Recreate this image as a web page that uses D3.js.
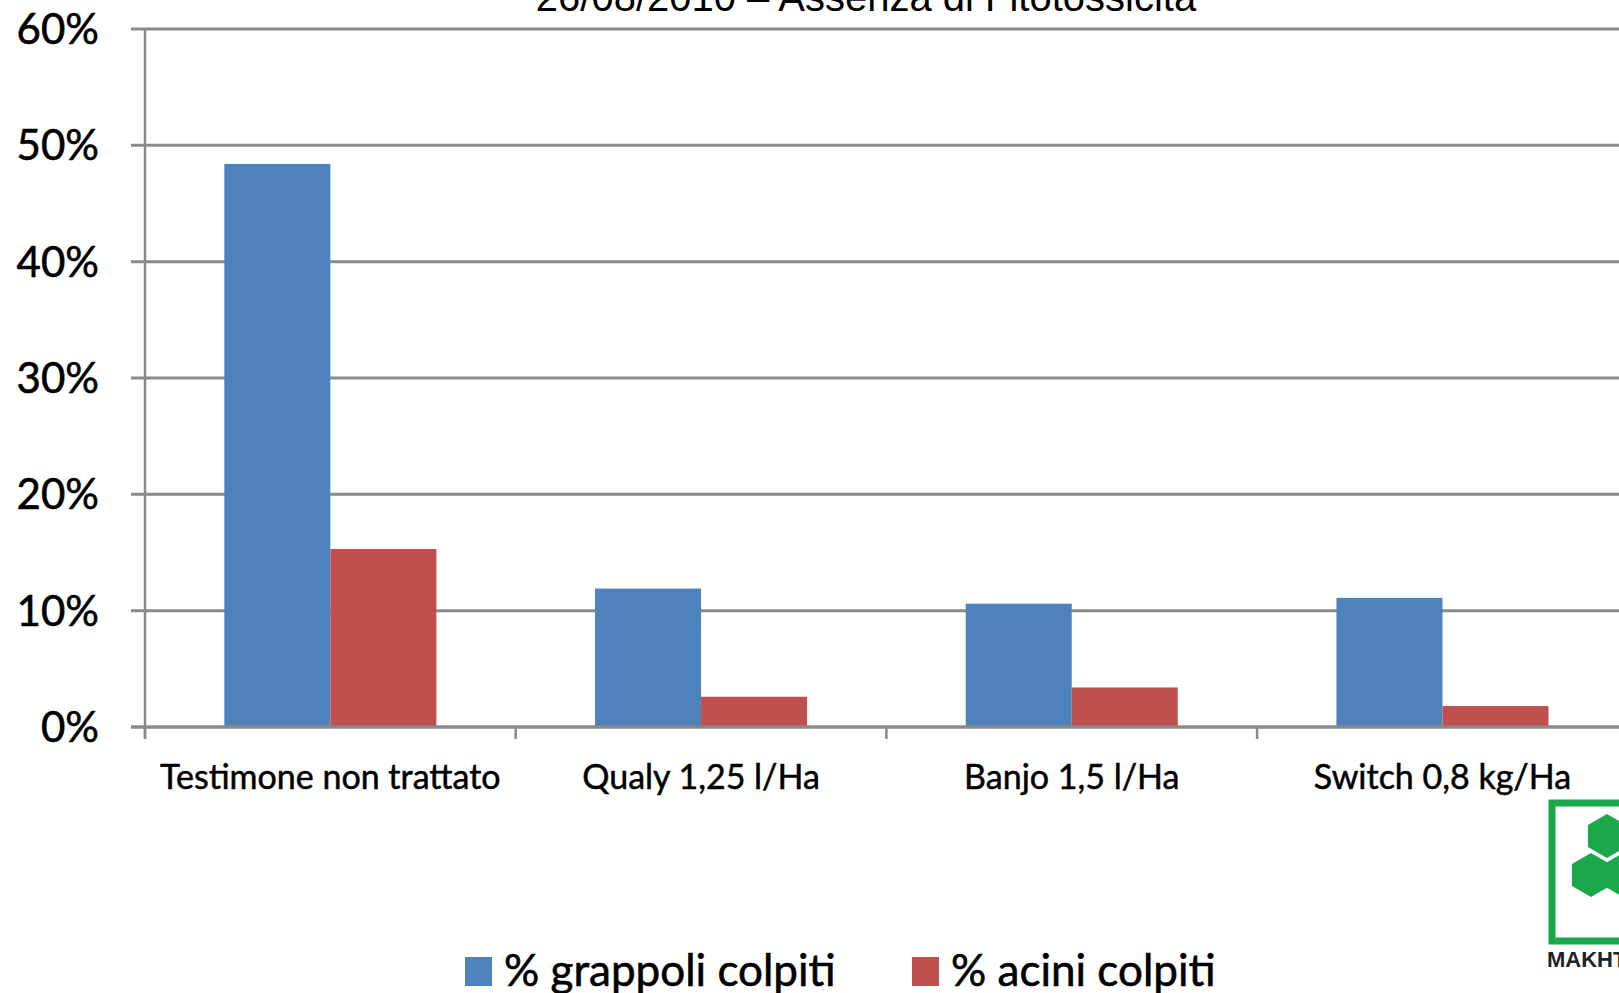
<!DOCTYPE html>
<html>
<head>
<meta charset="utf-8">
<script src="https://cdn.jsdelivr.net/npm/d3@7/dist/d3.min.js"></script>
<style>
  body { margin: 0; background: #fff; overflow: hidden; }
</style>
</head>
<body>
<div id="chart"></div>
<script>
// chart data
var categories = ["Testimone non trattato", "Qualy 1,25 l/Ha", "Banjo 1,5 l/Ha", "Switch 0,8 kg/Ha"];
var seriesNames = ["% grappoli colpiti", "% acini colpiti"];
var grappoli = [0.484, 0.119, 0.106, 0.111];
var acini = [0.153, 0.026, 0.034, 0.018];
var yTicks = [0, 0.1, 0.2, 0.3, 0.4, 0.5, 0.6];
var colors = ["#4F81BD", "#C0504D"];
var title = "26/08/2010 \u2013 Assenza di Fitotossicit\u00e0";

drawChart();

function drawChart() {
    var W = 1619, H = 993;
    var margin = { top: 29, right: 0, bottom: 266, left: 145 },
        width = 4 * 370.7,
        height = H - margin.top - margin.bottom;

    var svg = d3.select("#chart")
        .append("svg")
        .attr("width", W)
        .attr("height", H);

    var g = svg.append("g")
        .attr("transform", "translate(" + margin.left + "," + margin.top + ")");

    // scales
    var x = d3.scaleBand()
        .domain(categories)
        .range([0, width])
        .paddingInner(0.428)
        .paddingOuter(0.214);

    var xs = d3.scaleBand()
        .domain(seriesNames)
        .range([0, x.bandwidth()]);

    var y = d3.scaleLinear()
        .domain([0, 0.6])
        .range([height, 0]);

    // gridlines
    g.selectAll(".grid")
        .data(yTicks)
        .enter()
        .append("line")
        .attr("x1", -14)
        .attr("x2", W)
        .attr("y1", function (d) { return y(d); })
        .attr("y2", function (d) { return y(d); })
        .attr("stroke", "#8a8a8a")
        .attr("stroke-width", 3);

    // y axis line
    g.append("line")
        .attr("x1", 0).attr("x2", 0)
        .attr("y1", 0).attr("y2", height + 12)
        .attr("stroke", "#8a8a8a")
        .attr("stroke-width", 2.5);

    // y tick labels
    g.selectAll(".ylab")
        .data(yTicks)
        .enter()
        .append("text")
        .attr("x", -46)
        .attr("y", function (d) { return y(d) + 15; })
        .attr("text-anchor", "end")
        .style("font-family", "Lato, 'Open Sans', sans-serif")
        .style("font-size", "42px")
        .style("fill", "#000")
        .style("stroke", "#000")
        .style("stroke-width", 0.6)
        .text(function (d) { return Math.round(d * 100) + "%"; });

    // bars
    var data = [grappoli, acini];
    var groups = g.selectAll(".cat")
        .data(categories)
        .enter()
        .append("g")
        .attr("transform", function (d) { return "translate(" + x(d) + ",0)"; });

    groups.selectAll("rect")
        .data(function (d, i) {
            return seriesNames.map(function (s, j) { return { s: s, v: data[j][i], c: colors[j] }; });
        })
        .enter()
        .append("rect")
        .attr("x", function (d) { return xs(d.s); })
        .attr("width", xs.bandwidth())
        .attr("y", function (d) { return y(d.v); })
        .attr("height", function (d) { return height - y(d.v); })
        .attr("fill", function (d) { return d.c; });

    // baseline over the bars
    g.append("line")
        .attr("x1", -14).attr("x2", W)
        .attr("y1", height).attr("y2", height)
        .attr("stroke", "#8a8a8a")
        .attr("stroke-width", 3);

    // category ticks between groups
    var step = x.step();
    g.selectAll(".ctick")
        .data(d3.range(categories.length + 1))
        .enter()
        .append("line")
        .attr("x1", function (d) { return d * step; })
        .attr("x2", function (d) { return d * step; })
        .attr("y1", height)
        .attr("y2", height + 12)
        .attr("stroke", "#8a8a8a")
        .attr("stroke-width", 2.5);

    // category labels
    g.selectAll(".xlab")
        .data(categories)
        .enter()
        .append("text")
        .attr("x", function (d) { return x(d) + x.bandwidth() / 2; })
        .attr("y", height + 62)
        .attr("text-anchor", "middle")
        .style("font-family", "Lato, 'Open Sans', sans-serif")
        .style("font-size", "34px")
        .style("fill", "#000")
        .style("stroke", "#000")
        .style("stroke-width", 0.5)
        .text(function (d) { return d; });

    // title (cut at top)
    svg.append("text")
        .attr("x", 866)
        .attr("y", 11)
        .attr("text-anchor", "middle")
        .style("font-family", "'Liberation Sans', Arial, sans-serif")
        .style("font-size", "40px")
        .style("fill", "#000")
        .text(title);

    // legend
    var legX = [465, 912];
    var leg = svg.selectAll(".leg")
        .data(seriesNames)
        .enter()
        .append("g")
        .attr("transform", function (d, i) { return "translate(" + legX[i] + ",957)"; });

    leg.append("rect")
        .attr("width", 27)
        .attr("height", 29)
        .attr("fill", function (d, i) { return colors[i]; });

    leg.append("text")
        .attr("x", 39)
        .attr("y", 29)
        .style("font-family", "Lato, 'Open Sans', sans-serif")
        .style("font-size", "44px")
        .style("fill", "#000")
        .style("stroke", "#000")
        .style("stroke-width", 0.6)
        .text(function (d) { return d; });

    // logo (partially visible at right edge)
    var logo = svg.append("g").attr("transform", "translate(1549,800)");
    logo.append("rect")
        .attr("x", 3).attr("y", 3)
        .attr("width", 100).attr("height", 138)
        .attr("fill", "none")
        .attr("stroke", "#1aa84a")
        .attr("stroke-width", 7);
    var hex = function (cx, cy, r) {
        return d3.range(6).map(function (k) {
            var a = Math.PI / 3 * k + Math.PI / 6;
            return [cx + r * Math.cos(a), cy + r * Math.sin(a)];
        });
    };
    [[58, 36], [42, 75], [74, 75]].forEach(function (c) {
        logo.append("path")
            .attr("d", "M" + hex(c[0], c[1], 22).join("L") + "Z")
            .attr("fill", "#1aa84a");
    });
    logo.append("text")
        .attr("x", -2).attr("y", 167)
        .style("font-family", "'Liberation Sans', Arial, sans-serif")
        .style("font-weight", "bold")
        .style("font-size", "22px")
        .style("fill", "#222")
        .text("MAKHTESHIM");
}
</script>
</body>
</html>
